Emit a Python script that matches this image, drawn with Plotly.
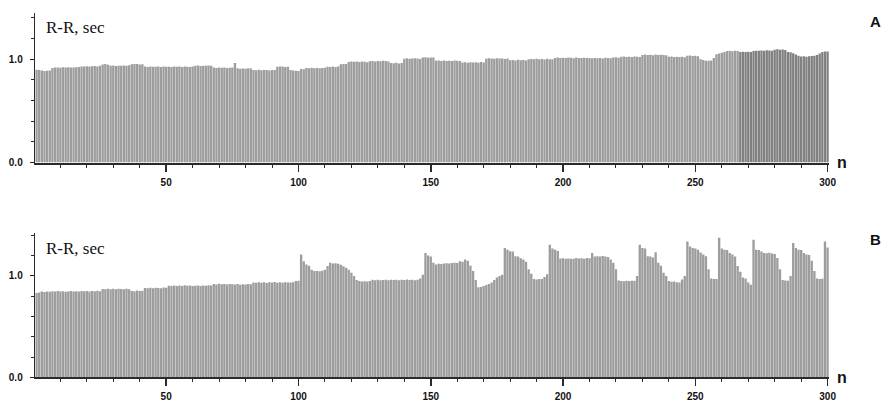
import plotly.graph_objects as go

# R-R intervals (ms), beat number n = 1..300
rr_a_ms = [
    898, 895,
    889, 886, 888, 890,
    915, 918, 920, 917, 921, 919, 922, 920, 918, 921, 923,
    928, 930, 932, 929, 931, 934, 930, 936,
    948, 952, 945,
    936, 938, 934, 937, 935, 939, 936, 940,
    950, 954, 952, 948, 951,
    928, 925, 930, 927, 926, 929, 924, 928, 926,
    927, 925, 929, 926, 928, 924, 930, 927, 925, 929,
    936, 938, 934, 937, 935, 939, 936,
    918, 915, 920, 916, 919, 914, 917, 920,
    962,
    912, 908, 910, 906, 911, 909,
    895, 893, 897, 892, 896, 894, 891, 896, 895,
    926, 930, 928, 924, 927,
    895, 890, 888, 886,
    905, 903,
    914, 912, 916, 913, 915, 911, 914, 917,
    927, 925, 929, 924, 928,
    950, 954, 952,
    972, 976, 974, 978, 973, 977, 975, 971,
    980, 983, 978, 982, 979, 985, 981, 978,
    962, 960, 965, 958, 963,
    1004, 1008, 1003, 1006, 1009, 1005, 1002,
    1016, 1018, 1014, 1017, 1015,
    984, 987, 982, 986, 983, 985, 981, 988, 984, 982,
    968, 970, 966, 971, 967, 969, 965, 972, 968,
    1004, 1008, 1006, 1003, 1009, 1005, 1007, 1002, 1006,
    990, 992, 988, 993, 989, 991, 987,
    1000, 1002, 998, 1003, 999, 1001, 997, 1004, 1000, 998,
    1012, 1015, 1010, 1014, 1011, 1016, 1013, 1009, 1015, 1012, 1010, 1014, 1011,
    1010, 1008, 1012, 1009, 1011, 1007, 1013, 1010, 1008,
    1016, 1018, 1014,
    1022, 1025, 1020, 1024, 1021, 1026, 1023, 1020,
    1041, 1044, 1039, 1042, 1038, 1045, 1040, 1043, 1041, 1038,
    1022, 1025, 1020, 1024, 1021, 1023, 1019,
    1032, 1035, 1030, 1033, 1029,
    1000, 992, 985,
    984, 988, 1010,
    1048, 1055, 1062, 1070,
    1079, 1082, 1076, 1080, 1078,
    1070, 1072, 1068, 1071, 1069,
    1079, 1082, 1080, 1084, 1081, 1085, 1083, 1080,
    1092, 1095, 1090, 1094, 1088,
    1070, 1066, 1058, 1045, 1032,
    1025, 1028, 1024, 1027, 1030,
    1032, 1040, 1055,
    1070, 1073, 1075,
]

rr_b_ms = [
    832, 835,
    845, 842, 846, 843,
    848, 845, 850, 846, 849, 844, 847, 850, 845, 848, 846,
    850, 848, 852, 847, 851, 849, 853, 848,
    871, 868, 873, 869, 872, 867, 874, 870, 868, 872, 869,
    852, 849, 855, 850, 853,
    881, 878, 884, 879, 883, 880, 877, 885, 882,
    903, 900, 906, 901, 905, 899, 907, 902, 904, 900,
    903, 906, 901, 905, 902, 908, 904,
    919, 916, 922, 917, 921, 915, 920, 918,
    916, 919, 913, 918, 914, 920, 917,
    935, 932, 938, 933, 937, 931, 936, 934, 939, 933, 936, 932, 937, 935,
    935, 938, 950, 952,
    1210,
    1145, 1113,
    1100, 1060, 1048,
    1048, 1045, 1050, 1060,
    1097, 1129,
    1123, 1125, 1120, 1110,
    1095, 1080, 1060,
    1030, 1000,
    960, 950, 945, 948, 944, 950,
    961, 958, 963, 957, 960, 962, 956, 961, 959, 963, 958, 962, 960, 964, 959, 961, 957, 962,
    975, 1010,
    1226,
    1200, 1190,
    1129, 1113,
    1120, 1118, 1122, 1125, 1123, 1127, 1130, 1128,
    1145, 1140, 1161,
    1150, 1100,
    1048, 960,
    887, 890, 900, 910,
    919, 935, 960, 984,
    1000, 1010,
    1274,
    1258, 1242, 1240,
    1194, 1190, 1175,
    1161, 1140,
    1065, 1020,
    968, 965, 970, 968,
    990, 1016,
    1307,
    1270, 1258, 1245,
    1171, 1175, 1168, 1172, 1170, 1169, 1176, 1171, 1173, 1170,
    1177, 1175,
    1226, 1190,
    1194, 1190, 1196, 1192, 1185,
    1161, 1129,
    1065,
    955, 950, 948, 952, 949, 951, 953,
    1000,
    1307,
    1274, 1270,
    1194, 1190, 1180,
    1232,
    1129, 1100,
    1032, 1000,
    950, 942, 945, 938, 935,
    965,
    1000,
    1339,
    1290, 1274, 1270,
    1258, 1230, 1210,
    1194, 1065,
    974, 968, 970,
    1377,
    1270, 1258, 1255,
    1226, 1210, 1190,
    1097, 1040, 984, 975, 935, 912,
    1355,
    1258, 1255, 1240,
    1226, 1224, 1228, 1220, 1215,
    1177,
    1065,
    960, 955, 952,
    1000,
    1323,
    1274, 1258, 1255,
    1226, 1210, 1205,
    1150,
    1048,
    975, 968, 972,
    1339,
    1280,
]

beats = list(range(1, 301))
x_tick_vals = [50, 100, 150, 200, 250, 300]
x_tick_text = ["50", "100", "150", "200", "250", "300"]
y_tick_vals = [0.0, 1.0]
y_tick_text = ["0.0", "1.0"]
panel_labels = ["A", "B"]
y_title = "R-R, sec"
x_title = "n"

assert len(rr_a_ms) == 300 and len(rr_b_ms) == 300

rr_a = [v / 1000 for v in rr_a_ms]
rr_b = [v / 1000 for v in rr_b_ms]

BAR = "#9d9d9d"
BAR_DARK = "#808080"
AX = "#2a2a2a"

colors_a = [BAR_DARK if n >= 267 else BAR for n in beats]

fig = go.Figure()
fig.add_trace(go.Bar(x=beats, y=rr_a, marker=dict(color=colors_a, line=dict(width=0)),
                     xaxis="x", yaxis="y", showlegend=False, hoverinfo="skip"))
fig.add_trace(go.Bar(x=beats, y=rr_b, marker=dict(color=BAR, line=dict(width=0)),
                     xaxis="x2", yaxis="y2", showlegend=False, hoverinfo="skip"))

W, H = 891, 404
xdom = [35.5 / W, 835.5 / W]
tick_font = dict(family="Liberation Sans", size=10, color="#111", weight="bold")

def xaxis_cfg(anchor):
    return dict(domain=xdom, range=[0.5, 300.5], anchor=anchor,
                showline=True, linecolor=AX, linewidth=2,
                tickmode="array", tickvals=x_tick_vals, ticktext=x_tick_text,
                ticks="outside", ticklen=7, tickwidth=1.5, tickcolor=AX,
                minor=dict(tick0=0, dtick=10, ticks="outside", ticklen=3, tickcolor=AX, tickwidth=1),
                tickfont=tick_font, ticklabelstandoff=2,
                showgrid=False, zeroline=False, fixedrange=True)

def yaxis_cfg(anchor, dom, top):
    return dict(domain=dom, range=[0, top], anchor=anchor,
                showline=True, linecolor=AX, linewidth=1.5,
                tickmode="array", tickvals=y_tick_vals, ticktext=y_tick_text,
                ticks="outside", ticklen=4, tickwidth=1.2, tickcolor=AX,
                minor=dict(tick0=0, dtick=0.2, ticks="outside", ticklen=3, tickcolor=AX, tickwidth=1),
                tickfont=tick_font, ticklabelstandoff=5,
                showgrid=False, zeroline=False, fixedrange=True)

fig.update_layout(
    width=W, height=H,
    margin=dict(l=0, r=0, t=0, b=0),
    paper_bgcolor="white", plot_bgcolor="white",
    bargap=0.12,
    xaxis=xaxis_cfg("y"),
    yaxis=yaxis_cfg("x", [(H - 165) / H, (H - 13) / H], 1.448),
    xaxis2=xaxis_cfg("y2"),
    yaxis2=yaxis_cfg("x2", [(H - 383) / H, (H - 237) / H], 1.418),
)

title_font = dict(family="Liberation Serif", size=17, color="#111")
label_font = dict(family="Liberation Sans", size=16, color="#111", weight="bold")

for yy_title, yy_n, yy_panel, lab in [(28, 165, 22, panel_labels[0]), (252, 383, 243, panel_labels[1])]:
    fig.add_annotation(text=y_title, xref="paper", yref="paper", x=44 / W, y=(H - yy_title) / H,
                       xanchor="left", yanchor="middle", showarrow=False, font=title_font)
    fig.add_annotation(text=x_title, xref="paper", yref="paper", x=842 / W, y=(H - yy_n) / H,
                       xanchor="left", yanchor="middle", showarrow=False, font=label_font)
    fig.add_annotation(text=lab, xref="paper", yref="paper", x=882 / W, y=(H - yy_panel) / H,
                       xanchor="center", yanchor="middle", showarrow=False,
                       font=dict(family="Liberation Sans", size=15, color="#111", weight="bold"))

fig.write_html("out.html", config={"displayModeBar": False, "staticPlot": True},
               post_script="document.body.style.margin='0px';document.body.style.overflow='hidden';")
